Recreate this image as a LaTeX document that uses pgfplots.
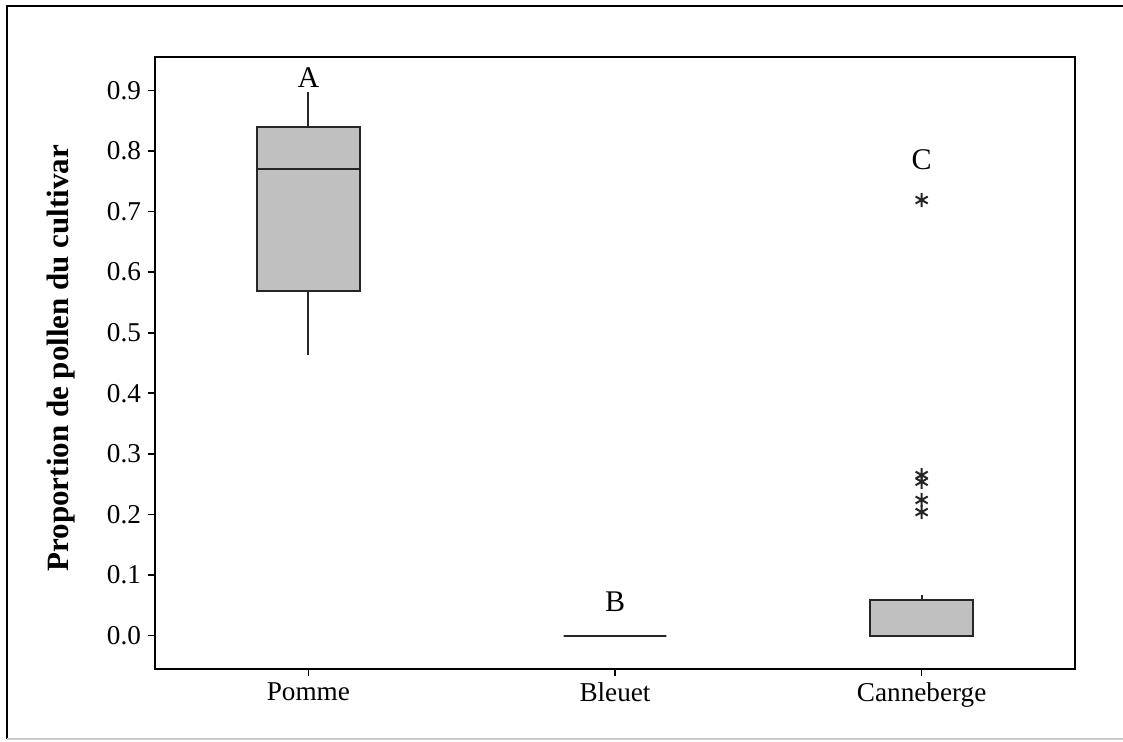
\documentclass[border=0pt]{standalone}
\usepackage{fontspec}
\setmainfont{Liberation Serif}
\usepackage{pgfplots}
\pgfplotsset{compat=1.18}
\usepgfplotslibrary{statistics}
\definecolor{boxgray}{RGB}{192,192,192}

\begin{document}
\begin{tikzpicture}
\useasboundingbox (-77.5pt,-36.5pt) rectangle (484pt,334.5pt);
% outer frame (no right edge in the original)
\draw[line width=1pt] (-74pt,-35pt) -- (-74pt,331.5pt) -- (484pt,331.5pt);
\draw[line width=0.6pt,black!20] (-74pt,-35pt) -- (484pt,-35pt);

\begin{axis}[
    at={(0,0)}, anchor=south west,
    scale only axis,
    width=460pt, height=306pt,
    xmin=-0.5, xmax=2.5,
    ymin=-0.055, ymax=0.955,
    xtick={0,1,2},
    xticklabels={Pomme,Bleuet,Canneberge},
    ytick={0,0.1,...,0.9},
    yticklabel style={/pgf/number format/fixed,/pgf/number format/precision=1,/pgf/number format/fixed zerofill},
    /pgf/number format/assume math mode=true,
    tick label style={font=\fontsize{13.6}{16}\selectfont},
    tick pos=left,
    tick align=outside,
    major tick length=3.5pt,
    every tick/.style={black,line width=0.8pt},
    axis line style={line width=1.1pt},
    ylabel={\textbf{Proportion de pollen du cultivar}},
    every axis y label/.append style={at={(axis description cs:-0.102,0.508)},anchor=center,font=\fontsize{15.5}{18}\selectfont},
    boxplot/draw direction=y,
    boxplot/box extend=0.335,
    boxplot/whisker extend=0,
    clip=false,
]
% Pomme
\addplot+[solid,line width=1.1pt,draw=black!85,fill=boxgray,mark=none,
  boxplot prepared={draw position=0,
    lower whisker=0.463, lower quartile=0.569, median=0.770,
    upper quartile=0.839, upper whisker=0.897}]
  coordinates {};
% Bleuet
\addplot+[solid,line width=1.1pt,draw=black!85,fill=boxgray,mark=none,
  boxplot prepared={draw position=1,
    lower whisker=0, lower quartile=0, median=0,
    upper quartile=0, upper whisker=0}]
  coordinates {};
% Canneberge
\addplot+[solid,line width=1.1pt,draw=black!85,fill=boxgray,
  mark=asterisk,mark size=3.5pt,mark options={black!85,line width=1pt},
  boxplot prepared={draw position=2,
    lower whisker=0, lower quartile=0, median=0,
    upper quartile=0.059, upper whisker=0.067}]
  coordinates {(0,0.719) (0,0.265) (0,0.254) (0,0.224) (0,0.204)};

\node[font=\fontsize{15}{17}\selectfont] at (axis cs:0,0.921) {A};
\node[font=\fontsize{15}{17}\selectfont] at (axis cs:1,0.056) {B};
\node[font=\fontsize{15}{17}\selectfont] at (axis cs:2,0.785) {C};
\end{axis}
\end{tikzpicture}
\end{document}
